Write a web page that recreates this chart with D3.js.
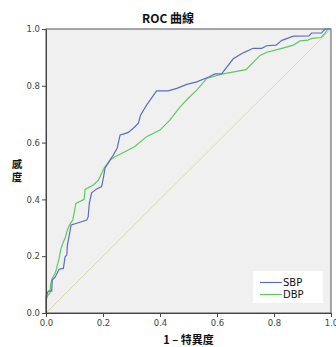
<!DOCTYPE html>
<html>
<head>
<meta charset="utf-8">
<script src="https://cdn.jsdelivr.net/npm/d3@7"></script>
<style>
  body { margin: 0; background: #fff; }
  svg { display: block; }
  .axis text { font-family: "DejaVu Sans", sans-serif; font-size: 8.5px; fill: #444; }
  .axis path, .axis line { stroke: #444; }
  .label { font-family: "Noto Sans CJK TC", sans-serif; font-weight: bold; font-size: 11px; fill: #111; }
</style>
</head>
<body>
<div id="chart"></div>
<script>
// ROC points: [1 - specificity, sensitivity]
const sbp = [
  [0, 0], [0, 0.056], [0.008, 0.077], [0.02, 0.077], [0.022, 0.116], [0.032, 0.126],
  [0.046, 0.154], [0.061, 0.157], [0.067, 0.198], [0.073, 0.204], [0.075, 0.239],
  [0.081, 0.271], [0.088, 0.31], [0.108, 0.316], [0.143, 0.327], [0.148, 0.339],
  [0.152, 0.386], [0.16, 0.423], [0.178, 0.437], [0.195, 0.445], [0.201, 0.474],
  [0.207, 0.51], [0.225, 0.539], [0.236, 0.556], [0.25, 0.581], [0.26, 0.627],
  [0.271, 0.63], [0.289, 0.636], [0.312, 0.656], [0.324, 0.668], [0.332, 0.697],
  [0.353, 0.732], [0.388, 0.782], [0.429, 0.782], [0.459, 0.791], [0.494, 0.805],
  [0.529, 0.814], [0.573, 0.832], [0.593, 0.842], [0.616, 0.842], [0.657, 0.895],
  [0.692, 0.916], [0.727, 0.932], [0.757, 0.932], [0.774, 0.941], [0.807, 0.943],
  [0.828, 0.96], [0.868, 0.975], [0.923, 0.976], [0.932, 0.986], [0.967, 0.986],
  [0.979, 1], [1, 1]
];
const dbp = [
  [0, 0], [0, 0.046], [0.007, 0.063], [0.014, 0.07], [0.016, 0.099], [0.022, 0.123],
  [0.026, 0.128], [0.034, 0.145], [0.043, 0.181], [0.046, 0.193], [0.052, 0.225],
  [0.061, 0.251], [0.067, 0.263], [0.075, 0.292], [0.084, 0.313], [0.094, 0.327],
  [0.105, 0.386], [0.134, 0.4], [0.137, 0.435], [0.166, 0.451], [0.184, 0.468],
  [0.195, 0.492], [0.204, 0.51], [0.225, 0.539], [0.242, 0.55], [0.277, 0.568],
  [0.312, 0.586], [0.353, 0.621], [0.4, 0.644], [0.435, 0.68], [0.47, 0.725],
  [0.499, 0.756], [0.529, 0.785], [0.564, 0.826], [0.616, 0.841], [0.702, 0.857],
  [0.751, 0.907], [0.775, 0.918], [0.821, 0.93], [0.868, 0.943], [0.891, 0.958],
  [0.919, 0.961], [0.933, 0.967], [0.965, 0.97], [0.979, 0.985], [0.988, 0.998],
  [1, 1]
];
const reference = [[0, 0], [1, 1]];
const seriesNames = ['SBP', 'DBP'];
const tickValues = [0, 0.2, 0.4, 0.6, 0.8, 1.0];
const yLabelChars = ['感', '度'];

const totalWidth = 336;
const totalHeight = 347;
const margin = { top: 29, right: 5, bottom: 34, left: 46 };
const width = totalWidth - margin.left - margin.right;
const height = totalHeight - margin.top - margin.bottom;
const colors = { SBP: '#5b6ec2', DBP: '#5ccb5c' };

const svg = d3.select('#chart')
  .append('svg')
  .attr('width', totalWidth)
  .attr('height', totalHeight);

const g = svg.append('g')
  .attr('transform', 'translate(' + margin.left + ',' + margin.top + ')');

const x = d3.scaleLinear().domain([0, 1]).range([0, width]);
const y = d3.scaleLinear().domain([0, 1]).range([height, 0]);

// plot background + frame
g.append('rect')
  .attr('width', width)
  .attr('height', height)
  .attr('fill', '#f0f0f0')
  .attr('stroke', '#555')
  .attr('stroke-width', 1);

const line = d3.line()
  .x(d => x(d[0]))
  .y(d => y(d[1]));

g.append('path')
  .datum(reference)
  .attr('d', line)
  .attr('fill', 'none')
  .attr('stroke', '#ddd8ad')
  .attr('stroke-width', 1);

g.append('path')
  .datum(dbp)
  .attr('d', line)
  .attr('fill', 'none')
  .attr('stroke', colors.DBP)
  .attr('stroke-width', 1.2);

g.append('path')
  .datum(sbp)
  .attr('d', line)
  .attr('fill', 'none')
  .attr('stroke', colors.SBP)
  .attr('stroke-width', 1.2);

const fmt = d3.format('.1f');

g.append('g')
  .attr('class', 'axis')
  .attr('transform', 'translate(0,' + height + ')')
  .call(d3.axisBottom(x).tickValues(tickValues).tickFormat(fmt).tickSize(4).tickSizeOuter(0).tickPadding(3));

g.append('g')
  .attr('class', 'axis')
  .call(d3.axisLeft(y).tickValues(tickValues).tickFormat(fmt).tickSize(4).tickSizeOuter(0).tickPadding(2));

// legend
const legend = g.append('g')
  .attr('transform', 'translate(' + (width - 78) + ',' + (height - 42) + ')');

legend.append('rect')
  .attr('width', 70)
  .attr('height', 32)
  .attr('fill', '#fff');

seriesNames.forEach(function(name, i) {
  const row = legend.append('g').attr('transform', 'translate(0,' + (11.5 + i * 12) + ')');
  row.append('line')
    .attr('x1', 7).attr('x2', 29)
    .attr('stroke', colors[name])
    .attr('stroke-width', 1.2);
  row.append('text')
    .attr('x', 30)
    .attr('y', 3.5)
    .style('font-family', '"DejaVu Sans", sans-serif')
    .style('font-size', '10px')
    .style('fill', '#111')
    .text(name);
});

// titles
svg.append('text')
  .attr('class', 'label')
  .attr('x', totalWidth / 2)
  .attr('y', 23)
  .attr('text-anchor', 'middle')
  .style('font-size', '12px')
  .text('ROC 曲線');

svg.append('text')
  .attr('class', 'label')
  .attr('x', margin.left + width / 2)
  .attr('y', 344)
  .attr('text-anchor', 'middle')
  .text('1 – 特異度');

// vertical y label, one character per line
yLabelChars.forEach(function(ch, i) {
  svg.append('text')
    .attr('class', 'label')
    .attr('text-anchor', 'middle')
    .attr('x', 17)
    .attr('y', 168 + i * 13)
    .style('font-size', '10.5px')
    .text(ch);
});
</script>
</body>
</html>
